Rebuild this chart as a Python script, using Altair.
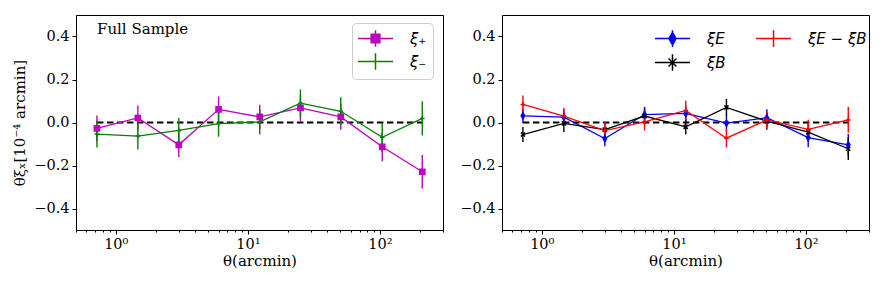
import altair as alt
import pandas as pd

# ---------------- data ----------------
THETA = [0.72, 1.47, 3.0, 6.0, 12.3, 25.0, 50.5, 104.0, 209.0]

XI_PLUS = [-0.027, 0.021, -0.104, 0.061, 0.026, 0.068, 0.026, -0.113, -0.229]
XI_PLUS_ERR = [0.060, 0.058, 0.058, 0.060, 0.057, 0.062, 0.060, 0.067, 0.078]
XI_MINUS = [-0.054, -0.063, -0.037, -0.005, 0.003, 0.090, 0.052, -0.069, 0.019]
XI_MINUS_ERR = [0.062, 0.062, 0.058, 0.061, 0.059, 0.064, 0.065, 0.068, 0.080]

XI_E = [0.031, 0.025, -0.075, 0.037, 0.042, -0.003, 0.022, -0.070, -0.104]
XI_E_ERR = [0.035, 0.035, 0.035, 0.036, 0.036, 0.038, 0.040, 0.045, 0.050]
XI_B = [-0.056, -0.004, -0.033, 0.030, -0.020, 0.070, 0.006, -0.045, -0.122]
XI_B_ERR = [0.035, 0.040, 0.035, 0.035, 0.036, 0.040, 0.040, 0.045, 0.052]
XI_D = [0.084, 0.030, -0.038, 0.003, 0.056, -0.073, 0.012, -0.032, 0.012]
XI_D_ERR = [0.042, 0.038, 0.040, 0.040, 0.045, 0.043, 0.040, 0.045, 0.060]

LEFT_NAMES = ["ξ₊", "ξ₋"]
LEFT_COLORS = ["#bf00bf", "#008000"]
RIGHT_NAMES = ["ξE", "ξB", "ξE − ξB"]
RIGHT_COLORS = ["#0000ff", "#000000", "#ff0000"]
RIGHT_LEGEND_ORDER = ["ξE", "ξE − ξB", "ξB"]

X_TICKS = [0.5, 0.6, 0.7, 0.8, 0.9, 1, 2, 3, 4, 5, 6, 7, 8, 9, 10,
           20, 30, 40, 50, 60, 70, 80, 90, 100, 200, 300]
Y_TICKS = [-0.4, -0.2, 0.0, 0.2, 0.4]
ANNOTATION = "Full Sample"

# ---------------- styles ----------------
MARKER_PATHS = {
    "ξ₊": "M-0.95,-0.95H0.95V0.95H-0.95Z",
    "ξ₋": "M-0.85,0H0.85M0,-0.85V0.85",
    "ξE": "M0,-1.15L0.62,0L0,1.15L-0.62,0Z",
    "ξB": "M-0.75,-0.75L0.75,0.75M-0.75,0.75L0.75,-0.75",
    "ξE − ξB": "M-0.85,0H0.85M0,-0.85V0.85",
}
# legend symbols: unit = 8.75 px (symbolSize 306 -> sqrt/2)
LEGEND_PATHS = {
    "ξ₊": "M-2,0H2M0,-0.95V0.95M-0.5,-0.5H0.5V0.5H-0.5Z",
    "ξ₋": "M-2,0H2M0,-0.95V0.95",
    "ξE": "M-2,0H2M0,-0.95V0.95M0,-0.72L0.4,0L0,0.72L-0.4,0Z",
    "ξB": "M-2,0H2M0,-0.95V0.95M-0.45,-0.45L0.45,0.45M-0.45,0.45L0.45,-0.45",
    "ξE − ξB": "M-2,0H2M0,-0.95V0.95",
}
SERIF = "DejaVu Serif"


def long_frame(names, values, errors):
    rows = []
    for k, (n, v, e) in enumerate(zip(names, values, errors)):
        for t, y, s in zip(THETA, v, e):
            rows.append({"theta": t, "val": y, "lo": y - s, "hi": y + s,
                         "series": n, "k": k})
    return pd.DataFrame(rows)


def pick_expr(names, mapping):
    expr = "'" + mapping[names[-1]] + "'"
    for n in reversed(names[:-1]):
        expr = "datum.value === '" + n + "' ? '" + mapping[n] + "' : " + expr
    return expr


X_AXIS = alt.Axis(
    values=X_TICKS,
    labelExpr="datum.value === 1 ? '10⁰' : datum.value === 10 ? '10¹' : datum.value === 100 ? '10²' : ''",
    tickSize={"condition": {"test": "datum.value === 1 || datum.value === 10 || datum.value === 100",
                            "value": 4}, "value": 2},
    title="θ(arcmin)", labelOverlap=False, labelFlush=False, labelPadding=3, titlePadding=3,
)


def panel(df, names, colors, legend_order, legend, ytitle):
    xs = alt.X("theta:Q", scale=alt.Scale(type="log", domain=[0.5, 300], nice=False), axis=X_AXIS)
    ys_axis = alt.Axis(values=Y_TICKS, format=".1f", tickSize=4, labelPadding=3,
                       title=ytitle, titlePadding=6)
    ys = alt.Y("val:Q", scale=alt.Scale(domain=[-0.5, 0.5], nice=False, zero=False), axis=ys_axis)
    cscale = alt.Scale(domain=names, range=colors)
    col_map = dict(zip(names, colors))

    zero = pd.DataFrame({"x1": [THETA[0]], "x2": [THETA[-1]], "y": [0.0]})
    dash = alt.Chart(zero).mark_rule(color="black", strokeDash=[6.5, 3.5], strokeWidth=2).encode(
        x=alt.X("x1:Q", scale=alt.Scale(type="log", domain=[0.5, 300], nice=False), axis=X_AXIS),
        x2="x2:Q",
        y=alt.Y("y:Q", scale=alt.Scale(domain=[-0.5, 0.5], nice=False, zero=False), axis=ys_axis),
    )

    base = alt.Chart(df)
    errs = base.mark_rule(strokeWidth=1.4).encode(
        x=xs, y="lo:Q", y2="hi:Q",
        color=alt.Color("series:N", scale=cscale, legend=None),
    )
    legend_obj = alt.Legend(
        symbolType=alt.ExprRef(pick_expr(legend_order, LEGEND_PATHS)),
        symbolFillColor=alt.ExprRef(pick_expr(legend_order, col_map)),
        symbolStrokeColor=alt.ExprRef(pick_expr(legend_order, col_map)),
        symbolStrokeWidth=1.5,
        symbolSize=306,
        symbolOffset=8,
        labelOffset=25,
        **legend,
    )
    lines = base.mark_line(strokeWidth=1.3).encode(
        x=xs, y=ys,
        color=alt.Color("series:N", scale=alt.Scale(domain=legend_order,
                                                   range=[col_map[n] for n in legend_order]),
                        legend=legend_obj),
        order="theta:Q",
    )
    pts = base.mark_point(filled=True, strokeWidth=1.5, opacity=1, size=30).encode(
        x=xs, y=ys,
        color=alt.Color("series:N", scale=cscale, legend=None),
        stroke=alt.Stroke("series:N", scale=alt.Scale(domain=names, range=colors), legend=None),
        shape=alt.Shape("series:N", scale=alt.Scale(domain=names,
                                                    range=[MARKER_PATHS[n] for n in names]),
                        legend=None),
    )
    return dash, errs, lines, pts


left_df = long_frame(LEFT_NAMES, [XI_PLUS, XI_MINUS], [XI_PLUS_ERR, XI_MINUS_ERR])
right_df = long_frame(RIGHT_NAMES, [XI_E, XI_B, XI_D], [XI_E_ERR, XI_B_ERR, XI_D_ERR])

left_legend = dict(
    title=None, orient="none", legendX=276, legendY=8, direction="vertical",
    fillColor="white", strokeColor="#cccccc", cornerRadius=4, padding=6,
    labelFont="DejaVu Sans", labelFontSize=15, labelFontStyle="italic", rowPadding=0,
    labelExpr="datum.label + '\u2002'",
)
right_legend = dict(
    title=None, orient="none", legendX=153, legendY=14, direction="horizontal", columns=2,
    padding=0, labelFont="DejaVu Sans", labelFontSize=15,
    labelFontStyle="italic", rowPadding=1, columnPadding=27,
)

ld, le, ll, lp = panel(left_df, LEFT_NAMES, LEFT_COLORS, LEFT_NAMES, left_legend,
                       "θξₓ[10⁻⁴ arcmin]")
note = alt.Chart(pd.DataFrame({"t": [ANNOTATION]})).mark_text(
    align="left", baseline="middle", font=SERIF, fontSize=15, color="black"
).encode(x=alt.value(21), y=alt.value(14), text="t:N")
left = alt.layer(ld, le, ll, lp, note).resolve_scale(color="independent").properties(
    width=367, height=215)

rd, re_, rl, rp = panel(right_df, RIGHT_NAMES, RIGHT_COLORS, RIGHT_LEGEND_ORDER, right_legend, None)
right = alt.layer(rd, re_, rl, rp).resolve_scale(color="independent").properties(
    width=367, height=215)

chart = alt.hconcat(left, right, spacing=15).resolve_scale(
    color="independent", stroke="independent", shape="independent"
).resolve_legend(color="independent").properties(
    padding={"left": 4, "top": 6, "right": 5, "bottom": 2}
).configure_view(stroke="black", strokeWidth=1).configure_axis(
    labelFont=SERIF, labelFontSize=14.5, titleFont=SERIF, titleFontSize=15,
    titleFontWeight="normal", labelColor="black", titleColor="black",
    tickColor="black", tickWidth=1, grid=False, domain=False,
)

chart.save("out.html", embed_options={"renderer": "svg", "actions": False})
